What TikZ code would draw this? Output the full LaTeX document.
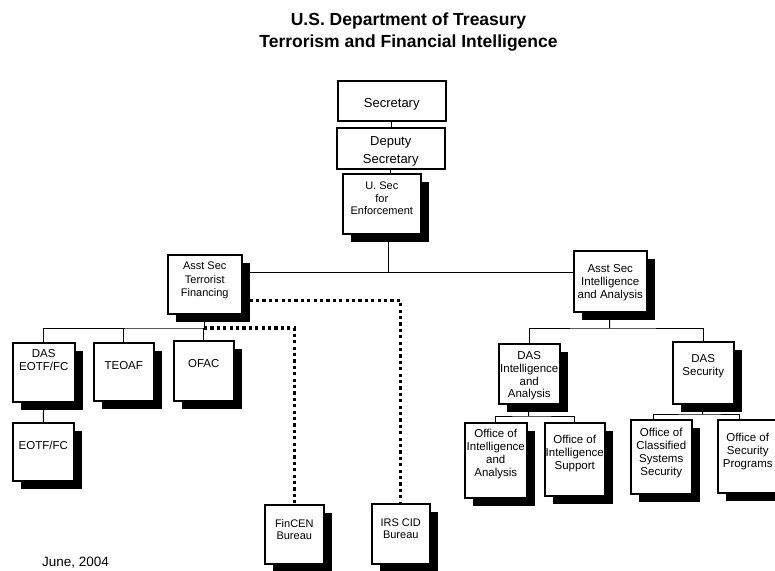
\documentclass[tikz,border=0pt]{standalone}
\usepackage{fontspec}
\setmainfont{Liberation Sans}
\usetikzlibrary{shadows,backgrounds}

\begin{document}
\begin{tikzpicture}[x=1pt, y=-1pt,
  box/.style={draw, line width=1.5pt, fill=white, anchor=north west, inner sep=0pt, align=center,
    font=\fontsize{11.5}{13}\selectfont},
  sbox/.style={box, drop shadow={shadow xshift=8pt, shadow yshift=-8pt, fill=black, opacity=1}},
  dims/.style n args={3}{minimum width=#1, text height=#2, text depth=#3},
  link/.style={line width=1pt},
  dotline/.style={line width=3.2pt, dash pattern=on 3.2pt off 3.2pt}]
  \useasboundingbox (0,0) rectangle (775,570);
  \node[font=\fontsize{17.5}{22}\selectfont\bfseries, align=center] (title) at (408.5,32)
    {U.S. Department of Treasury\\Terrorism and Financial Intelligence};
  % top of the chain
  \node[box, dims={108}{26.5}{13.5}, font=\fontsize{13}{18}\selectfont] (sec) at (337,80) {Secretary};
  \node[box, dims={108}{35.5}{5.5}, font=\fontsize{13}{18}\selectfont] (dep) at (336,127) {Deputy\\Secretary};
  \node[sbox, dims={78}{41}{19}, font=\fontsize{11}{12.5}\selectfont] (usec) at (342,173) {U. Sec\\for\\Enforcement};
  \node[sbox, dims={74}{42}{17}, font=\fontsize{11}{13.5}\selectfont] (astf) at (167,254) {Asst Sec\\Terrorist\\Financing};
  \node[sbox, dims={73}{48}{13}] (asia) at (573,250) {Asst Sec\\Intelligence\\and Analysis};
  % terrorist financing side
  \node[sbox, dims={62}{28}{31}] (daseotf) at (12,342) {DAS\\EOTF/FC};
  \node[sbox, dims={60}{27}{31}] (teoaf) at (93,342) {TEOAF};
  \node[sbox, dims={60}{27}{33}] (ofac) at (173,340) {OFAC};
  \node[sbox, dims={61}{27}{31}] (eotf) at (12,422) {EOTF/FC};
  \node[sbox, dims={59}{35}{24}, font=\fontsize{11}{12}\selectfont] (fincen) at (264,504) {FinCEN\\Bureau};
  \node[sbox, dims={58}{35}{25}, font=\fontsize{11}{12}\selectfont] (irs) at (371,503) {IRS CID\\Bureau};
  % intelligence side
  \node[sbox, dims={61}{54}{6}, font=\fontsize{11.5}{12.7}\selectfont] (dasia) at (498,343) {DAS\\Intelligence\\and\\Analysis};
  \node[sbox, dims={61}{34}{28}] (dassec) at (672,341) {DAS\\Security};
  \node[sbox, dims={62}{54}{21}] (oia) at (464,422) {Office of\\Intelligence\\and\\Analysis};
  \node[sbox, dims={60}{47}{26}] (ois) at (544,422) {Office of\\Intelligence\\Support};
  \node[sbox, dims={61}{56}{18}] (ocss) at (630,419) {Office of\\Classified\\Systems\\Security};
  \node[sbox, dims={60}{48}{25}] (osp) at (717,419) {Office of\\Security\\Programs};
  \node[anchor=base west, inner sep=0pt, font=\fontsize{13.5}{16}\selectfont] (date) at (42,566) {June, 2004};
  \begin{scope}[on background layer]
    \coordinate (hub) at (388,272);
    \coordinate (tfbus) at (204,328);
    \coordinate (iabus) at (609.5,328);
    \coordinate (dabus) at (528.5,416);
    \coordinate (dsbus) at (702.5,414);
    \draw[link] (sec.south) -- (sec.south |- dep.north);
    \draw[link] (dep.south) -- (dep.south |- usec.north);
    \draw[link] (usec.center -| hub) -- (hub);
    \draw[link] (astf.center |- hub) -- (asia.center |- hub);
    \draw[link] (astf.center -| tfbus) -- (tfbus);
    \draw[link] (daseotf.center) |- (tfbus) -| (ofac.center);
    \draw[link] (teoaf.center) -- (teoaf.center |- tfbus);
    \draw[link] (daseotf.center) -- (eotf.center);
    \draw[link] (asia.center) -- (iabus);
    \draw[link] (dasia.center) |- (iabus) -| (dassec.center);
    \draw[link] (dasia.center) -- (dabus);
    \draw[link] (oia.center) |- (dabus) -| (ois.center);
    \draw[link] (dassec.center) -- (dsbus);
    \draw[link] ([xshift=-8pt]ocss.center) |- (dsbus) -| ([xshift=-8pt]osp.center);
    \draw[dotline] (tfbus) -| (fincen.center);
    \draw[dotline] ([yshift=-16.5pt]astf.center) -| (irs.center);
  \end{scope}
\end{tikzpicture}
\end{document}
